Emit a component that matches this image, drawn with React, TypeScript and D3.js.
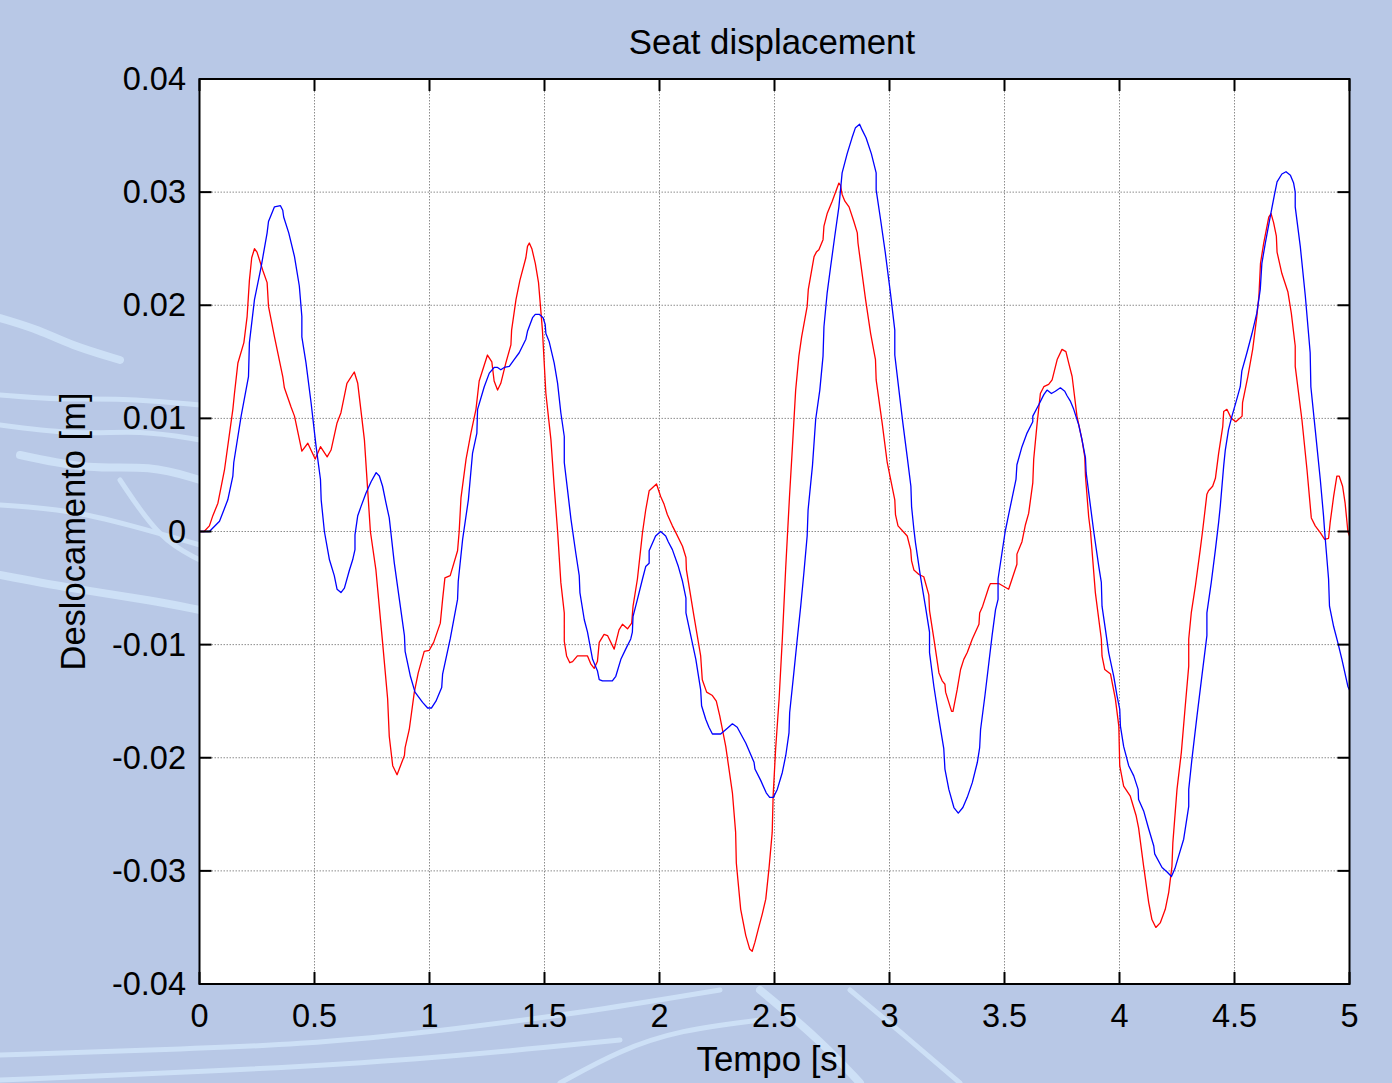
import React from "react";
import * as d3 from "d3";

// ---- data: [time (s), displacement (m)] ----
const redSeries: [number, number][] = [
  [0, 0], [0.02, 0], [0.043, 0.0005], [0.058, 0.0014], [0.08, 0.0025], [0.109, 0.0055],
  [0.145, 0.0108], [0.152, 0.0122], [0.167, 0.0149], [0.193, 0.0167], [0.207, 0.019],
  [0.217, 0.0222], [0.227, 0.0242], [0.239, 0.025], [0.25, 0.0247], [0.275, 0.0231],
  [0.294, 0.022], [0.3, 0.0199], [0.326, 0.0172], [0.362, 0.0137], [0.369, 0.0127],
  [0.398, 0.011], [0.413, 0.0102], [0.445, 0.0071], [0.471, 0.0078], [0.503, 0.0064],
  [0.526, 0.0075], [0.555, 0.0066], [0.572, 0.0072], [0.598, 0.0096], [0.615, 0.0105],
  [0.641, 0.0131], [0.673, 0.0141], [0.688, 0.0131], [0.717, 0.0081], [0.743, 0],
  [0.767, -0.0034], [0.796, -0.0098], [0.818, -0.0148], [0.825, -0.0181], [0.84, -0.0207],
  [0.859, -0.0215], [0.891, -0.0198], [0.894, -0.0191], [0.912, -0.0175], [0.934, -0.0142],
  [0.951, -0.0125], [0.977, -0.0106], [0.999, -0.0105], [1.018, -0.0098], [1.047, -0.0081],
  [1.057, -0.006], [1.067, -0.0041], [1.09, -0.0039], [1.122, -0.0017], [1.129, 0],
  [1.137, 0.003], [1.159, 0.0064], [1.18, 0.0087], [1.202, 0.0108], [1.216, 0.0133],
  [1.252, 0.0156], [1.271, 0.015], [1.281, 0.0133], [1.296, 0.0125], [1.31, 0.0131],
  [1.332, 0.0149], [1.354, 0.0165], [1.357, 0.0178], [1.376, 0.0205], [1.393, 0.0222],
  [1.419, 0.0242], [1.426, 0.0252], [1.434, 0.0255], [1.445, 0.025], [1.46, 0.0237],
  [1.474, 0.022], [1.491, 0.0178], [1.506, 0.0122], [1.528, 0.0081], [1.542, 0.004],
  [1.557, 0], [1.571, -0.0045], [1.586, -0.0072], [1.586, -0.0097], [1.596, -0.011],
  [1.61, -0.0116], [1.622, -0.0115], [1.643, -0.011], [1.687, -0.011], [1.701, -0.0117],
  [1.716, -0.0121], [1.73, -0.0115], [1.738, -0.0098], [1.759, -0.0091], [1.774, -0.0092],
  [1.803, -0.0104], [1.824, -0.0087], [1.839, -0.0082], [1.861, -0.0086], [1.879, -0.0081],
  [1.885, -0.0066], [1.904, -0.0042], [1.926, -0.0001], [1.94, 0.0019], [1.955, 0.0036],
  [1.987, 0.0042], [2.005, 0.0031], [2.02, 0.0024], [2.034, 0.0015], [2.056, 0.0005],
  [2.071, -0.0001], [2.1, -0.0013], [2.115, -0.0023], [2.117, -0.0034], [2.15, -0.0075],
  [2.179, -0.011], [2.186, -0.0131], [2.205, -0.0142], [2.23, -0.0145], [2.247, -0.015],
  [2.262, -0.0163], [2.288, -0.019], [2.317, -0.0231], [2.331, -0.0266], [2.334, -0.0293],
  [2.353, -0.0334], [2.375, -0.0357], [2.392, -0.0369], [2.403, -0.0371], [2.415, -0.0363],
  [2.43, -0.0351], [2.447, -0.0338], [2.462, -0.0325], [2.476, -0.0298], [2.49, -0.0266],
  [2.494, -0.0234], [2.505, -0.0192], [2.52, -0.0148], [2.534, -0.0095], [2.549, -0.0031],
  [2.565, 0.003], [2.578, 0.0075], [2.592, 0.0125], [2.606, 0.0155], [2.618, 0.0172],
  [2.642, 0.0199], [2.647, 0.0214], [2.672, 0.0243], [2.682, 0.0247], [2.693, 0.0249],
  [2.711, 0.0258], [2.715, 0.027], [2.729, 0.0281], [2.751, 0.0292], [2.78, 0.0308],
  [2.787, 0.0306], [2.794, 0.0298], [2.806, 0.0292], [2.824, 0.0287], [2.845, 0.0274],
  [2.86, 0.0264], [2.863, 0.0255], [2.896, 0.0205], [2.918, 0.0175], [2.939, 0.0152],
  [2.942, 0.0134], [2.968, 0.0096], [2.99, 0.0061], [3.023, 0.0028], [3.026, 0.0015],
  [3.037, 0.0005], [3.077, -0.0004], [3.092, -0.0016], [3.096, -0.0026], [3.106, -0.0034],
  [3.128, -0.0038], [3.149, -0.004], [3.171, -0.0056], [3.174, -0.007], [3.193, -0.0095],
  [3.215, -0.0125], [3.229, -0.0132], [3.241, -0.0135], [3.244, -0.0142], [3.27, -0.0159],
  [3.276, -0.0159], [3.294, -0.014], [3.309, -0.0122], [3.323, -0.0113], [3.338, -0.0107],
  [3.36, -0.0095], [3.389, -0.0082], [3.392, -0.0072], [3.405, -0.0066], [3.432, -0.0049],
  [3.439, -0.0046], [3.475, -0.0046], [3.518, -0.0051], [3.554, -0.0029], [3.554, -0.002],
  [3.576, -0.0009], [3.591, 0.0006], [3.605, 0.0016], [3.623, 0.0043], [3.627, 0.0064],
  [3.642, 0.0096], [3.656, 0.0122], [3.671, 0.0128], [3.692, 0.013], [3.707, 0.0134],
  [3.729, 0.0152], [3.75, 0.0161], [3.767, 0.0159], [3.779, 0.0149], [3.794, 0.0137],
  [3.815, 0.0102], [3.837, 0.0081], [3.849, 0.0066], [3.852, 0.0049], [3.866, 0.0013],
  [3.874, 0], [3.895, -0.0054], [3.921, -0.0095], [3.924, -0.011], [3.936, -0.0122],
  [3.961, -0.0126], [3.982, -0.0148], [3.997, -0.0172], [4.001, -0.0207], [4.018, -0.0225],
  [4.047, -0.0234], [4.072, -0.0251], [4.083, -0.0262], [4.105, -0.0296], [4.127, -0.0328],
  [4.141, -0.0343], [4.158, -0.035], [4.177, -0.0346], [4.199, -0.0334], [4.214, -0.0319],
  [4.228, -0.0296], [4.232, -0.0275], [4.25, -0.0228], [4.269, -0.0195], [4.286, -0.0154],
  [4.301, -0.0119], [4.301, -0.0095], [4.312, -0.0072], [4.33, -0.0048], [4.351, -0.0016],
  [4.361, 0], [4.38, 0.0033], [4.387, 0.0036], [4.405, 0.004], [4.417, 0.0047],
  [4.431, 0.0069], [4.449, 0.0093], [4.453, 0.0106], [4.467, 0.0108], [4.486, 0.01],
  [4.506, 0.0097], [4.533, 0.0102], [4.535, 0.0114], [4.558, 0.0137], [4.579, 0.0161],
  [4.597, 0.019], [4.606, 0.0208], [4.613, 0.0237], [4.627, 0.0255], [4.649, 0.0278],
  [4.659, 0.0281], [4.67, 0.0273], [4.682, 0.0261], [4.685, 0.0247], [4.706, 0.0228],
  [4.732, 0.0212], [4.747, 0.0193], [4.764, 0.0164], [4.764, 0.0146], [4.793, 0.0099],
  [4.815, 0.0055], [4.834, 0.0012], [4.851, 0.0005], [4.873, -0.0001], [4.892, -0.0007],
  [4.909, -0.0006], [4.916, 0.0008], [4.931, 0.0031], [4.945, 0.0049], [4.955, 0.0049],
  [4.97, 0.004], [4.981, 0.0025], [4.993, 0], [5.0, -0.0004],
];

const blueSeries: [number, number][] = [
  [0, 0], [0.043, 0], [0.087, 0.0009], [0.123, 0.0028], [0.145, 0.0049], [0.149, 0.0061],
  [0.181, 0.0102], [0.213, 0.0137], [0.217, 0.0167], [0.239, 0.0205], [0.268, 0.0234],
  [0.294, 0.0264], [0.3, 0.0274], [0.326, 0.0287], [0.352, 0.0288], [0.362, 0.0284],
  [0.366, 0.0278], [0.388, 0.0264], [0.413, 0.0243], [0.434, 0.0217], [0.445, 0.019],
  [0.445, 0.0172], [0.463, 0.0149], [0.485, 0.0114], [0.507, 0.0075], [0.526, 0.0046],
  [0.529, 0.0028], [0.543, 0], [0.565, -0.0025], [0.586, -0.0039], [0.598, -0.0051],
  [0.615, -0.0054], [0.63, -0.005], [0.652, -0.0034], [0.666, -0.0025], [0.676, -0.0016],
  [0.676, -0.0003], [0.688, 0.0014], [0.702, 0.0022], [0.724, 0.0034], [0.746, 0.0044],
  [0.768, 0.0052], [0.782, 0.0049], [0.796, 0.004], [0.811, 0.0025], [0.825, 0.0012],
  [0.847, -0.0028], [0.869, -0.006], [0.891, -0.0092], [0.894, -0.0106], [0.917, -0.0128],
  [0.937, -0.0142], [0.97, -0.0151], [0.992, -0.0156], [1.009, -0.0156], [1.028, -0.015],
  [1.053, -0.0138], [1.057, -0.0126], [1.09, -0.0095], [1.122, -0.006], [1.125, -0.0044],
  [1.144, -0.0007], [1.169, 0.0028], [1.187, 0.0069], [1.206, 0.0087], [1.209, 0.0108],
  [1.238, 0.0128], [1.26, 0.014], [1.281, 0.0145], [1.296, 0.0145], [1.31, 0.0143],
  [1.325, 0.0145], [1.347, 0.0146], [1.368, 0.0152], [1.39, 0.0158], [1.419, 0.017],
  [1.426, 0.0177], [1.448, 0.0189], [1.46, 0.0192], [1.477, 0.0192], [1.494, 0.0189],
  [1.503, 0.0183], [1.506, 0.0175], [1.52, 0.0168], [1.542, 0.0149], [1.557, 0.0131],
  [1.571, 0.0105], [1.586, 0.0084], [1.586, 0.0061], [1.6, 0.0037], [1.615, 0.0011],
  [1.636, -0.0019], [1.651, -0.0039], [1.654, -0.0054], [1.673, -0.0078], [1.687, -0.0089],
  [1.709, -0.0113], [1.73, -0.0123], [1.738, -0.0131], [1.752, -0.0132], [1.795, -0.0132],
  [1.81, -0.0128], [1.832, -0.0113], [1.853, -0.0104], [1.875, -0.0095], [1.882, -0.0089],
  [1.885, -0.0075], [1.904, -0.006], [1.926, -0.0042], [1.94, -0.0031], [1.955, -0.0028],
  [1.955, -0.0017], [1.983, -0.0004], [2.005, 0], [2.027, -0.0004], [2.038, -0.0009],
  [2.056, -0.0016], [2.082, -0.0031], [2.1, -0.0044], [2.115, -0.0059], [2.115, -0.0072],
  [2.136, -0.0092], [2.158, -0.0113], [2.179, -0.014], [2.183, -0.0154], [2.201, -0.0166],
  [2.215, -0.0173], [2.23, -0.0179], [2.266, -0.0179], [2.295, -0.0174], [2.317, -0.017],
  [2.338, -0.0173], [2.359, -0.0181], [2.375, -0.0187], [2.396, -0.0197], [2.411, -0.0204],
  [2.415, -0.021], [2.44, -0.022], [2.464, -0.0231], [2.479, -0.0235], [2.495, -0.0235],
  [2.512, -0.0228], [2.534, -0.0213], [2.549, -0.0198], [2.563, -0.0178], [2.566, -0.016],
  [2.584, -0.0125], [2.599, -0.0095], [2.614, -0.0066], [2.628, -0.0036], [2.642, -0.0004],
  [2.646, 0.0019], [2.665, 0.0058], [2.679, 0.0099], [2.697, 0.0125], [2.711, 0.0155],
  [2.715, 0.0181], [2.729, 0.0211], [2.744, 0.0234], [2.762, 0.0261], [2.78, 0.0287],
  [2.794, 0.0317], [2.816, 0.0334], [2.837, 0.0348], [2.852, 0.0357], [2.87, 0.036],
  [2.881, 0.0355], [2.898, 0.0348], [2.921, 0.0334], [2.942, 0.0317], [2.942, 0.0302],
  [2.961, 0.0276], [2.982, 0.0246], [3.004, 0.0211], [3.023, 0.0178], [3.023, 0.0156],
  [3.041, 0.0125], [3.058, 0.0096], [3.077, 0.0066], [3.093, 0.004], [3.096, 0.0022],
  [3.106, 0.0002], [3.113, -0.001], [3.134, -0.0039], [3.156, -0.0066], [3.174, -0.0089],
  [3.174, -0.0107], [3.193, -0.0137], [3.215, -0.0166], [3.236, -0.0192], [3.241, -0.021],
  [3.258, -0.0228], [3.28, -0.0244], [3.299, -0.0249], [3.319, -0.0244], [3.338, -0.0235],
  [3.36, -0.0222], [3.382, -0.0204], [3.392, -0.0191], [3.396, -0.0175], [3.415, -0.0145],
  [3.432, -0.0116], [3.446, -0.0092], [3.461, -0.0069], [3.472, -0.006], [3.472, -0.0042],
  [3.489, -0.0019], [3.503, 0], [3.518, 0.0015], [3.55, 0.0046], [3.554, 0.0059],
  [3.576, 0.0075], [3.598, 0.0087], [3.623, 0.0097], [3.623, 0.0102], [3.649, 0.0112],
  [3.671, 0.0121], [3.685, 0.0125], [3.704, 0.0122], [3.721, 0.0124], [3.743, 0.0127],
  [3.762, 0.0124], [3.772, 0.012], [3.787, 0.0115], [3.801, 0.0108], [3.823, 0.0094],
  [3.837, 0.0081], [3.852, 0.0065], [3.855, 0.0052], [3.874, 0.0022], [3.888, 0],
  [3.91, -0.0031], [3.921, -0.0045], [3.924, -0.0066], [3.939, -0.0087], [3.953, -0.0107],
  [3.975, -0.0128], [3.989, -0.0145], [4.001, -0.0157], [4.004, -0.0172], [4.018, -0.019],
  [4.04, -0.0207], [4.062, -0.0216], [4.081, -0.0228], [4.083, -0.0237], [4.105, -0.0247],
  [4.127, -0.0263], [4.149, -0.0278], [4.153, -0.0285], [4.185, -0.0297], [4.207, -0.0301],
  [4.226, -0.0305], [4.241, -0.0298], [4.257, -0.0287], [4.279, -0.0272], [4.301, -0.0243],
  [4.301, -0.0228], [4.315, -0.0201], [4.337, -0.0163], [4.358, -0.0128], [4.38, -0.0092],
  [4.38, -0.0072], [4.399, -0.0045], [4.417, -0.0016], [4.431, 0.0008], [4.438, 0.0022],
  [4.453, 0.0058], [4.46, 0.0072], [4.474, 0.009], [4.489, 0.0102], [4.51, 0.0117],
  [4.525, 0.0128], [4.532, 0.0142], [4.554, 0.0158], [4.576, 0.0175], [4.597, 0.0193],
  [4.612, 0.0214], [4.619, 0.0237], [4.634, 0.0255], [4.655, 0.0278], [4.674, 0.0298],
  [4.685, 0.0309], [4.706, 0.0316], [4.724, 0.0318], [4.743, 0.0315], [4.757, 0.0308],
  [4.764, 0.03], [4.764, 0.0287], [4.786, 0.0252], [4.808, 0.0208], [4.829, 0.0158],
  [4.832, 0.0128], [4.851, 0.009], [4.873, 0.0046], [4.887, 0.0014], [4.892, 0],
  [4.909, -0.0042], [4.913, -0.0066], [4.931, -0.0084], [4.949, -0.0098], [4.967, -0.0113],
  [4.993, -0.0137], [5.0, -0.014],
];

const xTicks = [0, 0.5, 1, 1.5, 2, 2.5, 3, 3.5, 4, 4.5, 5];
const xTickLabels = ["0", "0.5", "1", "1.5", "2", "2.5", "3", "3.5", "4", "4.5", "5"];
const yTicks = [-0.04, -0.03, -0.02, -0.01, 0, 0.01, 0.02, 0.03, 0.04];
const yTickLabels = ["-0.04", "-0.03", "-0.02", "-0.01", "0", "0.01", "0.02", "0.03", "0.04"];

const titleText = "Seat displacement";
const xLabelText = "Tempo [s]";
const yLabelText = "Deslocamento [m]";

// decorative light streaks of the background picture
const bgStreaks: [number, number][][] = [
  [[0, 318], [40, 330], [70, 345], [120, 360]],
  [[0, 395], [60, 400], [120, 398], [200, 405]],
  [[0, 425], [80, 435], [140, 430], [200, 440]],
  [[20, 455], [90, 470], [150, 465], [200, 480]],
  [[0, 505], [70, 510], [130, 525], [200, 545]],
  [[120, 480], [160, 540], [200, 560]],
  [[0, 575], [80, 590], [150, 600], [200, 610]],
  [[0, 1055], [150, 1050], [300, 1045], [450, 1030], [600, 1010], [720, 990]],
  [[0, 1080], [200, 1072], [420, 1060], [620, 1040]],
  [[760, 990], [820, 1040], [860, 1083]],
  [[850, 990], [910, 1040], [960, 1083]],
  [[560, 1083], [620, 1050], [680, 1030], [760, 1020]],
];

const W = 1392;
const H = 1083;
const FONT = "'Liberation Sans', Arial, Helvetica, sans-serif";

export default function App() {
  const x = d3.scaleLinear().domain([0, 5]).range([199.5, 1349.5]);
  const y = d3.scaleLinear().domain([-0.04, 0.04]).range([984, 79]);
  const line = d3
    .line<[number, number]>()
    .x((d) => x(d[0]))
    .y((d) => y(d[1]));
  const streak = d3
    .line<[number, number]>()
    .x((d) => d[0])
    .y((d) => d[1])
    .curve(d3.curveBasis);

  const [x0, x1] = x.range();
  const [y0, y1] = y.range(); // y0 bottom, y1 top
  const tl = 12;
  const cx = 772;

  return (
    <svg
      width={W}
      height={H}
      viewBox={`0 0 ${W} ${H}`}
      style={{ position: "absolute", left: 0, top: 0, display: "block" }}
    >
      <rect x={0} y={0} width={W} height={H} fill="#b8c8e6" />
      <g fill="none" stroke="#d3e6fa" strokeLinecap="round" opacity={0.8}>
        {bgStreaks.map((s, i) => (
          <path key={i} d={streak(s) || ""} strokeWidth={i % 3 === 0 ? 8 : 5} />
        ))}
      </g>

      <rect x={x0} y={y1} width={x1 - x0} height={y0 - y1} fill="#ffffff" />

      {/* grid */}
      <g stroke="#8c8c8c" strokeWidth={1} strokeDasharray="1.5 1.5">
        {xTicks.slice(1, -1).map((t) => (
          <line key={"gx" + t} x1={x(t)} x2={x(t)} y1={y1} y2={y0} />
        ))}
        {yTicks.slice(1, -1).map((v) => (
          <line key={"gy" + v} x1={x0} x2={x1} y1={y(v)} y2={y(v)} />
        ))}
      </g>

      {/* series */}
      <path d={line(redSeries) || ""} fill="none" stroke="#ff0000" strokeWidth={1.3} strokeLinejoin="round" />
      <path d={line(blueSeries) || ""} fill="none" stroke="#0000ff" strokeWidth={1.3} strokeLinejoin="round" />

      {/* axes box */}
      <rect x={x0} y={y1} width={x1 - x0} height={y0 - y1} fill="none" stroke="#000" strokeWidth={2} />

      {/* ticks */}
      <g stroke="#000" strokeWidth={2}>
        {xTicks.map((t) => (
          <g key={"tx" + t}>
            <line x1={x(t)} x2={x(t)} y1={y0} y2={y0 - tl} />
            <line x1={x(t)} x2={x(t)} y1={y1} y2={y1 + tl} />
          </g>
        ))}
        {yTicks.map((v) => (
          <g key={"ty" + v}>
            <line x1={x0} x2={x0 + tl} y1={y(v)} y2={y(v)} />
            <line x1={x1} x2={x1 - tl} y1={y(v)} y2={y(v)} />
          </g>
        ))}
      </g>

      {/* tick labels */}
      <g fontFamily={FONT} fontSize={32.5} fill="#000">
        {xTicks.map((t, i) => (
          <text key={"lx" + t} x={x(t)} y={1027} textAnchor="middle">
            {xTickLabels[i]}
          </text>
        ))}
        {yTicks.map((v, i) => (
          <text key={"ly" + v} x={186} y={y(v) + 11} textAnchor="end">
            {yTickLabels[i]}
          </text>
        ))}
      </g>

      {/* title and axis labels */}
      <text x={cx} y={54} textAnchor="middle" fontFamily={FONT} fontSize={34.8} fill="#000">
        {titleText}
      </text>
      <text x={cx} y={1071} textAnchor="middle" fontFamily={FONT} fontSize={34.8} fill="#000">
        {xLabelText}
      </text>
      <text
        transform={`translate(85, ${(y0 + y1) / 2}) rotate(-90)`}
        textAnchor="middle"
        fontFamily={FONT}
        fontSize={34.5}
        fill="#000"
      >
        {yLabelText}
      </text>
    </svg>
  );
}
